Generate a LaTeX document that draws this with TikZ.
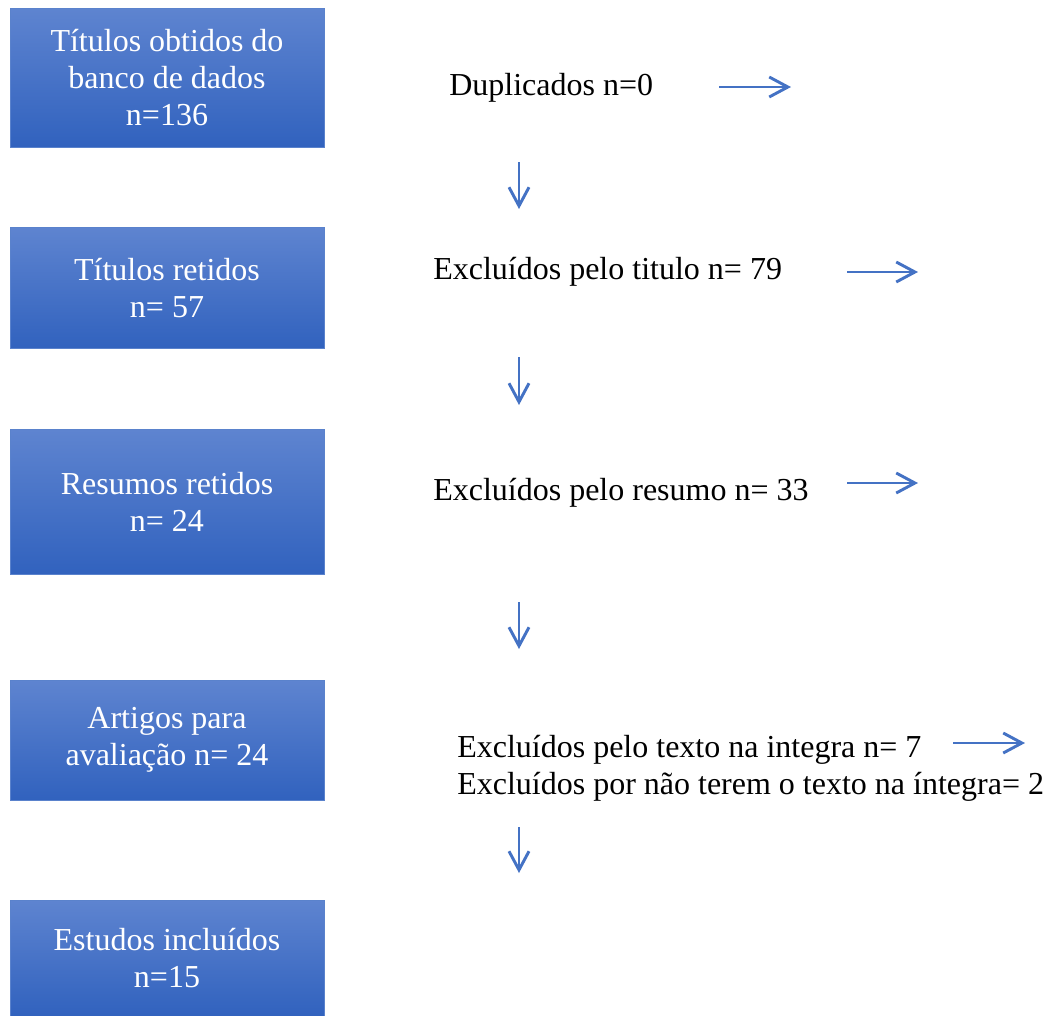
\documentclass[tikz,border=0pt]{standalone}
\usepackage{fontspec}
\setmainfont{Liberation Serif}
\usetikzlibrary{arrows.meta}
\definecolor{arrblue}{HTML}{4472C4}
\definecolor{boxtop}{HTML}{5E84D0}
\definecolor{boxbot}{HTML}{3162BE}
\definecolor{boxline}{HTML}{5A82CC}
\tikzset{
  box/.style={draw=boxline, line width=0.6pt, top color=boxtop, bottom color=boxbot,
    text=white, align=center, minimum width=235.5pt, inner sep=0pt,
    font=\fontsize{24}{27.75}\selectfont},
  lbl/.style={anchor=west, inner sep=0pt, text=black, align=left,
    font=\fontsize{24}{27.75}\selectfont},
  flow/.style={draw=arrblue, line width=2.2pt, -{Straight Barb[length=14pt,width=15pt,line width=2.2pt]}}
}
\begin{document}
\begin{tikzpicture}[x=0.75pt,y=-0.75pt]
\useasboundingbox (0,0) rectangle (1046,1015);
% boxes
\node[box, minimum height=104.25pt] (b1) at (167,77.5) {Títulos obtidos do\\banco de dados\\n=136};
\node[box, minimum height=90.75pt] (b2) at (167,288) {Títulos retidos\\n= 57};
\node[box, minimum height=108.75pt] (b3) at (167,502) {Resumos retidos\\n= 24};
\node[box, minimum height=90pt] (b4) at (167,740) {Artigos para\\avaliação n= 24};
\node[box, minimum height=87pt] (b5) at (167,958) {Estudos incluídos\\n=15};
% labels
\node[lbl] (t1) at (449,88) {Duplicados n=0};
\node[lbl] (t2) at (433,272) {Excluídos pelo titulo n= 79};
\node[lbl] (t3) at (433,493) {Excluídos pelo resumo n= 33};
\node[lbl] (t4) at (457,768) {Excluídos pelo texto na integra n= 7\\Excluídos por não terem o texto na íntegra= 2};
% arrow end points
\coordinate (r1a) at (719,87);  \coordinate (r1b) at (791,87);
\coordinate (r2a) at (847,272); \coordinate (r2b) at (918,272);
\coordinate (r3a) at (847,483); \coordinate (r3b) at (918,483);
\coordinate (r4a) at (953,743); \coordinate (r4b) at (1025,743);
\coordinate (d1a) at (519,162); \coordinate (d1b) at (519,209);
\coordinate (d2a) at (519,357); \coordinate (d2b) at (519,405);
\coordinate (d3a) at (519,602); \coordinate (d3b) at (519,649);
\coordinate (d4a) at (519,827); \coordinate (d4b) at (519,873);
\draw[flow] (r1a) -- (r1b);
\draw[flow] (r2a) -- (r2b);
\draw[flow] (r3a) -- (r3b);
\draw[flow] (r4a) -- (r4b);
\draw[flow] (d1a) -- (d1b);
\draw[flow] (d2a) -- (d2b);
\draw[flow] (d3a) -- (d3b);
\draw[flow] (d4a) -- (d4b);
\end{tikzpicture}
\end{document}
